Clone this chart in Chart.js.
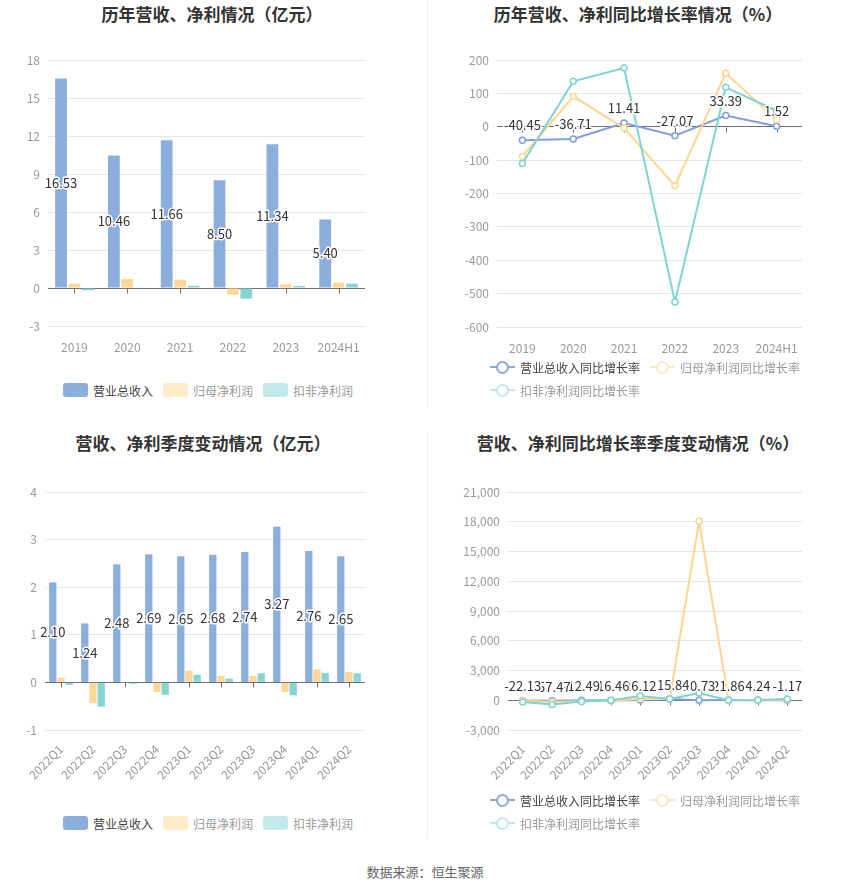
<!DOCTYPE html>
<html><head><meta charset="utf-8">
<script src="https://cdn.jsdelivr.net/npm/chart.js@4"></script>
<style>
body{margin:0;width:850px;height:891px;background:#fff;position:relative;font-family:"Noto Sans CJK SC",sans-serif;overflow:hidden}
.title{position:absolute;font-weight:bold;font-size:17px;color:#333;transform:translate(-50%,-50%);white-space:nowrap;line-height:20px}
canvas{position:absolute}
.leg{position:absolute;font-size:12px;display:flex;align-items:center;white-space:nowrap;height:14px;transform:translateY(-50%)}
.sq{width:25px;height:14px;border-radius:3px;margin-right:5px}
.li{width:25px;height:14px;margin-right:5px;position:relative}
.li .ln{position:absolute;left:0;top:6px;width:25px;height:2px}
.li .ci{position:absolute;left:6px;top:1px;width:9px;height:9px;border-radius:50%;background:#fff;border:2px solid}
.vdiv{position:absolute;left:427px;width:1px;background:#eeeeee}
.src{position:absolute;left:425px;top:871px;transform:translate(-50%,-50%);font-size:13px;color:#666;white-space:nowrap}
</style>
</head><body>
<div class="vdiv" style="top:0;height:408px"></div>
<div class="vdiv" style="top:432px;height:406px"></div>
<div class="title" style="left:212px;top:14px">历年营收、净利情况（亿元）</div>
<div class="title" style="left:638px;top:14px">历年营收、净利同比增长率情况（%）</div>
<div class="title" style="left:203px;top:443px">营收、净利季度变动情况（亿元）</div>
<div class="title" style="left:638px;top:443px">营收、净利同比增长率季度变动情况（%）</div>
<canvas id="c1" width="425" height="320" style="left:0;top:40px"></canvas>
<canvas id="c2" width="425" height="320" style="left:425px;top:40px"></canvas>
<canvas id="c3" width="425" height="330" style="left:0;top:470px"></canvas>
<canvas id="c4" width="425" height="330" style="left:425px;top:470px"></canvas>
<div class="src">数据来源：恒生聚源</div>
<script>
// ---------- data ----------
const barSeriesNames = ['营业总收入','归母净利润','扣非净利润'];
const lineSeriesNames = ['营业总收入同比增长率','归母净利润同比增长率','扣非净利润同比增长率'];

const yearCats = ['2019','2020','2021','2022','2023','2024H1'];
const yearRevenue = [16.53,10.46,11.66,8.50,11.34,5.40];
const yearNetProfit = [0.34,0.71,0.66,-0.53,0.29,0.42];
const yearDeductedProfit = [-0.18,0.05,0.18,-0.84,0.16,0.34];

const yearRevenueGrowth = [-40.45,-36.71,11.41,-27.07,33.39,1.52];
const yearNetGrowth = [-89,91,-4,-177,160,21];
const yearDeductedGrowth = [-110,136,176,-525,118,48];

const quarterCats = ['2022Q1','2022Q2','2022Q3','2022Q4','2023Q1','2023Q2','2023Q3','2023Q4','2024Q1','2024Q2'];
const qRevenue = [2.10,1.24,2.48,2.69,2.65,2.68,2.74,3.27,2.76,2.65];
const qNetProfit = [0.10,-0.43,0.003,-0.20,0.25,0.14,0.14,-0.20,0.27,0.22];
const qDeductedProfit = [-0.05,-0.51,-0.03,-0.26,0.16,0.08,0.19,-0.27,0.20,0.19];

const qRevenueGrowth = [-22.13,-57.47,-12.49,-16.46,26.12,115.84,10.73,21.86,4.24,-1.17];
const qNetGrowth = [-55,-180,-99,-75,145,133,18040,-2,10,57];
const qDeductedGrowth = [-170,-440,-135,-10,420,116,733,-4,25,137];

// ---------- styles ----------
const barColors = ['#8caedc','#ffd797','#85d4d6'];
const barLegendColors = ['#8caedc','#ffebc8','#c2eaeb'];
const lineColors = ['#7f9fdc','#ffd590','#7fd3d4'];
const lineLegendColors = ['#8aa8de','#ffe8c0','#c0eaea'];
const legendTextColors = ['#444','#999','#999'];
const FONT = '"Noto Sans CJK SC", sans-serif';

// ---------- plugins ----------
const valueLabels = {
  id:'valueLabels',
  afterDatasetsDraw(chart, args, opts){
    if(!opts || opts.dataset === undefined) return;
    const meta = chart.getDatasetMeta(opts.dataset);
    const data = chart.data.datasets[opts.dataset].data;
    const ctx = chart.ctx;
    ctx.save();
    ctx.font = '13px ' + FONT;
    ctx.textAlign = 'center'; ctx.textBaseline = 'middle';
    ctx.lineJoin = 'round';
    for(let i = meta.data.length - 1; i >= 0; i--){
      const el = meta.data[i];
      const x = el.x;
      const y = opts.mode === 'center' ? (el.y + el.base)/2 : el.y - opts.offset;
      const t = data[i].toFixed(2);
      ctx.lineWidth = 3; ctx.strokeStyle = '#fff';
      ctx.strokeText(t,x,y);
      ctx.fillStyle = '#333';
      ctx.fillText(t,x,y);
    }
    ctx.restore();
  }
};
const zeroTicks = {
  id:'zeroTicks',
  beforeDatasetsDraw(chart){
    const xs = chart.scales.x, ys = chart.scales.y, ctx = chart.ctx;
    const y0 = Math.round(ys.getPixelForValue(0)) + 0.5;
    ctx.save();
    ctx.strokeStyle = '#6e7079'; ctx.lineWidth = 1;
    chart.data.labels.forEach((l,i)=>{
      const x = Math.round(xs.getPixelForValue(i)) + 0.5;
      ctx.beginPath(); ctx.moveTo(x,y0); ctx.lineTo(x,y0+5); ctx.stroke();
    });
    ctx.restore();
  }
};

function makeOptions(cfg){
  return {
    responsive:false, animation:false, devicePixelRatio:1,
    layout:{padding:{left:0,top:cfg.top,right:cfg.right,bottom:0}},
    plugins:{legend:{display:false}, tooltip:{enabled:false}, valueLabels:cfg.labels},
    scales:{
      x:{
        offset:true,
        grid:{display:false}, border:{display:false},
        ticks:{color:'#999', font:{size:12, family:FONT}, padding:cfg.xpad, autoSkip:false,
               minRotation:cfg.rot, maxRotation:cfg.rot},
        afterFit(s){ s.height = cfg.xh; }
      },
      y:{
        min:cfg.min, max:cfg.max,
        grid:{drawTicks:false, color:(c)=> (c.tick && c.tick.value === 0) ? '#6e7079' : '#e0e6f1'},
        border:{display:false},
        ticks:{stepSize:cfg.step, color:'#999', font:{size:12, family:FONT}, padding:8},
        afterFit(s){ s.width = cfg.yw; }
      }
    }
  };
}

function barChart(id, labels, series, cfg){
  return new Chart(document.getElementById(id), {
    type:'bar',
    data:{labels, datasets: series.map((d,i)=>({
      label:barSeriesNames[i], data:d, backgroundColor:barColors[i],
      categoryPercentage:cfg.cat, barPercentage:cfg.bar, borderWidth:0
    }))},
    options: makeOptions(cfg),
    plugins:[zeroTicks, valueLabels]
  });
}
function lineChart(id, labels, series, cfg){
  return new Chart(document.getElementById(id), {
    type:'line',
    data:{labels, datasets: series.map((d,i)=>({
      label:lineSeriesNames[i], data:d, borderColor:lineColors[i], borderWidth:2,
      pointRadius:3, pointBorderWidth:1.5, pointBackgroundColor:'#fff', pointBorderColor:lineColors[i],
      tension:0, fill:false, order:3-i
    }))},
    options: makeOptions(cfg),
    plugins:[zeroTicks, valueLabels]
  });
}

barChart('c1', yearCats, [yearRevenue, yearNetProfit, yearDeductedProfit],
  {top:20, right:60, xh:34, yw:48, min:-3, max:18, step:3, xpad:6, rot:0, cat:0.76, bar:0.88,
   labels:{dataset:0, mode:'center'}});
lineChart('c2', yearCats, [yearRevenueGrowth, yearNetGrowth, yearDeductedGrowth],
  {top:20, right:48, xh:33, yw:72, min:-600, max:200, step:100, xpad:6, rot:0,
   labels:{dataset:0, mode:'above', offset:15}});
barChart('c3', quarterCats, [qRevenue, qNetProfit, qDeductedProfit],
  {top:22, right:60, xh:70, yw:45, min:-1, max:4, step:1, xpad:4, rot:45, cat:0.77, bar:0.89,
   labels:{dataset:0, mode:'center'}});
lineChart('c4', quarterCats, [qRevenueGrowth, qNetGrowth, qDeductedGrowth],
  {top:22, right:48, xh:70, yw:83, min:-3000, max:21000, step:3000, xpad:4, rot:45,
   labels:{dataset:0, mode:'above', offset:14}});

// ---------- legends ----------
function addLegend(items){
  items.forEach(it=>{
    const d = document.createElement('div');
    d.className = 'leg';
    d.style.left = it.x + 'px'; d.style.top = it.y + 'px';
    let icon;
    if(it.type === 'bar'){
      icon = '<div class="sq" style="background:'+it.color+'"></div>';
    } else {
      icon = '<div class="li"><div class="ln" style="background:'+it.color+'"></div><div class="ci" style="border-color:'+it.color+'"></div></div>';
    }
    d.innerHTML = icon + '<span style="color:'+it.tc+'">'+it.text+'</span>';
    document.body.appendChild(d);
  });
}
const barLegendX = [63,163,263];
const lineLegendPos = [[490,0],[650,0],[490,1]];
[390,823].forEach(y=>{
  addLegend(barSeriesNames.map((n,i)=>({type:'bar', x:barLegendX[i], y, color:barLegendColors[i], text:n, tc:legendTextColors[i]})));
});
[367,800].forEach(y=>{
  addLegend(lineSeriesNames.map((n,i)=>({type:'line', x:lineLegendPos[i][0], y:y + lineLegendPos[i][1]*23, color:lineLegendColors[i], text:n, tc:legendTextColors[i]})));
});
</script>
</body></html>
